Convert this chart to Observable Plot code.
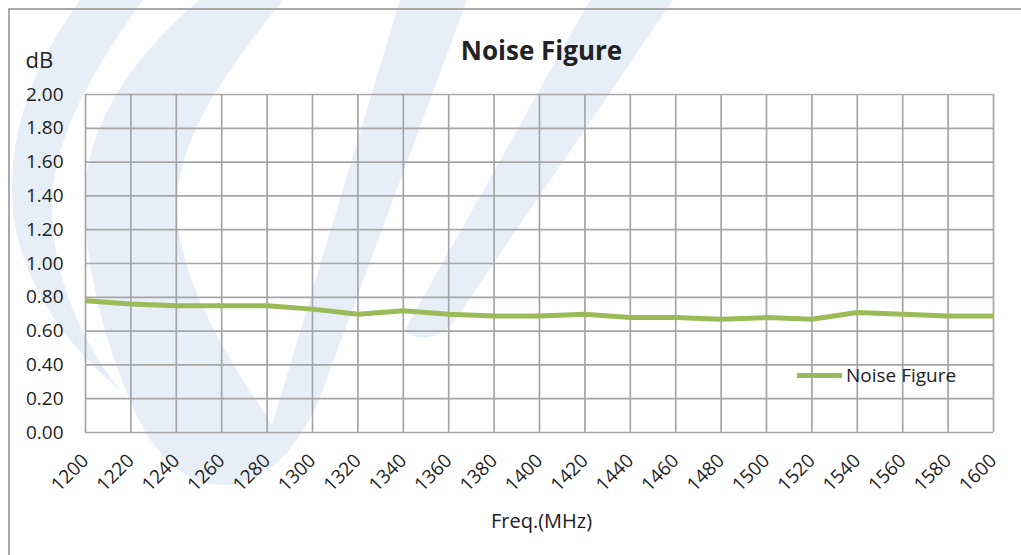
<!DOCTYPE html>
<html>
<head>
<meta charset="utf-8">
<script src="https://cdn.jsdelivr.net/npm/d3@7"></script>
<script src="https://cdn.jsdelivr.net/npm/@observablehq/plot@0.6"></script>
<style>
  html, body { margin: 0; padding: 0; background: #fff; }
  #wrap { position: relative; width: 1021px; height: 555px; overflow: hidden; font-family: "Open Sans", sans-serif; }
  #watermark { position: absolute; left: 0; top: 0; }
  #frame { position: absolute; left: 8px; top: 8px; width: 1100px; height: 700px; border-top: 2px solid #a9a9a9; border-left: 2px solid #a9a9a9; }
  #chart { position: absolute; left: 0; top: 0; }
  #legend { position: absolute; left: 797px; top: 362px; display: flex; align-items: center; font-size: 19px; color: #222; font-family: "Open Sans", sans-serif; }
  #legend .sw { width: 45px; height: 5px; background: #9bbb59; margin-right: 4px; }
</style>
</head>
<body>
<div id="wrap">
  <svg id="watermark" width="1021" height="555" aria-hidden="true">
    <g fill="#e6eef7">
      <path d="M80,0 L143,0 C100,60 55,130 52,200 C50,270 80,340 120,390 C60,340 12,270 12,190 C12,110 45,50 80,0 Z"/>
      <path d="M200,0 L283,0 C235,60 180,130 177,200 C175,280 230,360 272,425 L400,0 L467,0 L330,370 C310,430 280,480 225,485 C180,485 150,450 130,400 C100,330 85,260 85,200 C85,120 140,50 200,0 Z"/>
      <path d="M590,0 L673,0 L455,320 C445,335 420,345 405,330 Z"/>
    </g>
  </svg>
  <div id="frame"></div>
  <div id="chart"></div>
  <div id="legend"><span class="sw"></span><span id="legtext"></span></div>
</div>
<script>
const freqs = [1200, 1220, 1240, 1260, 1280, 1300, 1320, 1340, 1360, 1380, 1400,
               1420, 1440, 1460, 1480, 1500, 1520, 1540, 1560, 1580, 1600];
const noiseFigure = [0.78, 0.76, 0.75, 0.75, 0.75, 0.73, 0.70, 0.72, 0.70, 0.69, 0.69,
                     0.70, 0.68, 0.68, 0.67, 0.68, 0.67, 0.71, 0.70, 0.69, 0.69];
const yTicks = [0, 0.2, 0.4, 0.6, 0.8, 1.0, 1.2, 1.4, 1.6, 1.8, 2.0];
const xTicks = freqs;
const seriesName = "Noise Figure";
const chartTitle = "Noise Figure";
const yUnit = "dB";
const xLabel = "Freq.(MHz)";

const data = freqs.map((f, i) => ({freq: f, nf: noiseFigure[i]}));
document.getElementById("legtext").textContent = seriesName;

const gridColor = "#a6a6a6";
const textColor = "#222";

const chart = Plot.plot({
  width: 1021,
  height: 555,
  marginLeft: 85,
  marginRight: 28,
  marginTop: 94,
  marginBottom: 123,
  style: {fontFamily: "'Open Sans', sans-serif", fontSize: "19px", color: textColor, background: "transparent", overflow: "visible"},
  x: {domain: [1200, 1600], ticks: xTicks, tickFormat: d => String(d)},
  y: {domain: [0, 2], ticks: yTicks, tickFormat: d3.format(".2f")},
  marks: [
    Plot.gridX(xTicks, {stroke: gridColor, strokeOpacity: 1, strokeWidth: 1.7}),
    Plot.gridY(yTicks, {stroke: gridColor, strokeOpacity: 1, strokeWidth: 1.7}),
    Plot.axisY({ticks: yTicks, tickFormat: d3.format(".2f"), tickSize: 0, tickPadding: 22, label: null, fontSize: 19}),
    Plot.axisX({ticks: xTicks, tickFormat: d => String(d), tickSize: 0, tickPadding: 25, tickRotate: -45, label: null, fontSize: 19}),
    Plot.line(data, {x: "freq", y: "nf", stroke: "#9bbb59", strokeWidth: 5, strokeLinejoin: "round", strokeLinecap: "butt"}),
    Plot.text([chartTitle], {frameAnchor: "top", lineAnchor: "middle", dx: 2, dy: -43, fontSize: 26, fontWeight: "bold", fill: textColor}),
    Plot.text([yUnit], {frameAnchor: "top-left", textAnchor: "start", lineAnchor: "middle", dx: -60, dy: -34, fontSize: 22, fill: textColor}),
    Plot.text([xLabel], {frameAnchor: "bottom", lineAnchor: "middle", dx: 2, dy: 89, fontSize: 20, fill: textColor})
  ]
});
document.getElementById("chart").appendChild(chart);
</script>
</body>
</html>
